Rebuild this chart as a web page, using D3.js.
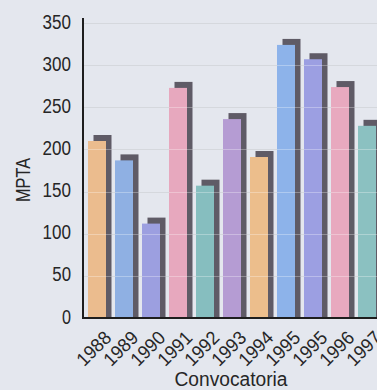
<!DOCTYPE html>
<html>
<head>
<meta charset="utf-8">
<script src="https://cdn.jsdelivr.net/npm/d3@7"></script>
<style>
  html, body { margin: 0; padding: 0; background: #e4e7ee; }
  svg { display: block; }
  text { font-family: "Liberation Sans", Arial, sans-serif; fill: #262626; }
</style>
</head>
<body>
<svg id="chart" width="377" height="390"></svg>
<script>
// Convocatorias (1995 aparece dos veces)
const categories = ["1988", "1989", "1990", "1991", "1992", "1993", "1994", "1995", "1995", "1996", "1997"];
// Importe en MPTA por convocatoria
const values = [210, 187, 112, 273, 157, 236, 191, 324, 307, 274, 228];
const barColors = ["#ebbc8e", "#8fb0e3", "#9c9fe0", "#e7a8be", "#86bebf", "#b59cd3",
                   "#ecbe8c", "#8db3ea", "#9c9fe2", "#e8a9bf", "#8bc1c1"];
const yTicks = [0, 50, 100, 150, 200, 250, 300, 350];

const svg = d3.select("#chart");
const W = 377, H = 390;
const axisX = 83, baseY = 318, topY = 18;
const depthX = 5.5, depthY = 6;

svg.append("rect").attr("width", W).attr("height", H).attr("fill", "#e4e7ee");

const x = d3.scaleBand()
  .domain(d3.range(categories.length))
  .range([83.5, 380.5])
  .paddingInner(1 / 3)
  .paddingOuter(1 / 6);

const y = d3.scaleLinear().domain([0, 350]).range([baseY, 23]);

// gridlines behind the bars
svg.append("g")
  .selectAll("line")
  .data(yTicks.filter(d => d > 0))
  .join("line")
  .attr("x1", axisX).attr("x2", W)
  .attr("y1", d => Math.round(y(d)) + 0.5).attr("y2", d => Math.round(y(d)) + 0.5)
  .attr("stroke", "#c3c7cf").attr("stroke-width", 1.2);

const bars = svg.append("g");
// dark depth face, offset up and to the right
bars.selectAll("rect.depth")
  .data(values)
  .join("rect")
  .attr("class", "depth")
  .attr("x", (d, i) => x(i) + depthX)
  .attr("y", d => y(d) - depthY)
  .attr("width", x.bandwidth())
  .attr("height", d => baseY - y(d) + depthY)
  .attr("fill", "#5f5b66");

// coloured front face
bars.selectAll("rect.front")
  .data(values)
  .join("rect")
  .attr("class", "front")
  .attr("x", (d, i) => x(i))
  .attr("y", d => y(d))
  .attr("width", x.bandwidth())
  .attr("height", d => baseY - y(d))
  .attr("fill", (d, i) => barColors[i]);

// faint gridline marks showing through the bars
svg.append("g")
  .selectAll("line")
  .data(yTicks.filter(d => d > 0))
  .join("line")
  .attr("x1", axisX).attr("x2", W)
  .attr("y1", d => Math.round(y(d)) + 0.5).attr("y2", d => Math.round(y(d)) + 0.5)
  .attr("stroke", "#ffffff").attr("stroke-opacity", 0.3).attr("stroke-width", 1);

// y axis: labels only, the spine is drawn separately
const yAxis = d3.axisLeft(y).tickValues(yTicks).tickSize(0).tickPadding(0);
const gy = svg.append("g").attr("transform", `translate(71,0)`).call(yAxis);
gy.select(".domain").remove();
gy.selectAll("text")
  .attr("font-size", 20)
  .attr("dy", 5)
  .attr("textLength", d => String(d).length * 9.7 - 0.7)
  .attr("lengthAdjust", "spacingAndGlyphs")
  .attr("font-family", null)
  .attr("fill", null);

// axis spines
svg.append("line").attr("x1", axisX).attr("x2", axisX).attr("y1", topY).attr("y2", baseY + 1)
  .attr("stroke", "#1e1e1e").attr("stroke-width", 2);
svg.append("line").attr("x1", axisX - 1).attr("x2", W).attr("y1", baseY).attr("y2", baseY)
  .attr("stroke", "#1e1e1e").attr("stroke-width", 2);

// x axis labels, rotated
const xAxis = d3.axisBottom(x).tickFormat(i => categories[i]).tickSize(0).tickPadding(0);
const gx = svg.append("g").attr("transform", `translate(0,${baseY})`).call(xAxis);
gx.select(".domain").remove();
gx.selectAll(".tick text")
  .attr("font-size", 19)
  .attr("font-family", null)
  .attr("fill", null)
  .attr("text-anchor", "end")
  .attr("dy", 0)
  .attr("y", 0)
  .attr("textLength", 40)
  .attr("lengthAdjust", "spacingAndGlyphs")
  .attr("transform", "translate(15.5,21) rotate(-45)");

// axis titles
svg.append("text")
  .attr("x", 231).attr("y", 385.5)
  .attr("text-anchor", "middle")
  .attr("font-size", 19.5)
  .attr("textLength", 113)
  .attr("lengthAdjust", "spacingAndGlyphs")
  .text("Convocatoria");

svg.append("text")
  .attr("transform", "translate(30,180) rotate(-90)")
  .attr("text-anchor", "middle")
  .attr("font-size", 19.5)
  .attr("textLength", 44)
  .attr("lengthAdjust", "spacingAndGlyphs")
  .text("MPTA");
</script>
</body>
</html>
